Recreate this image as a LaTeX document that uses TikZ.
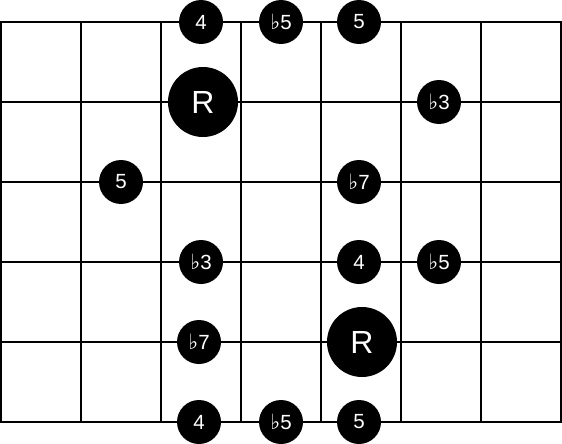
\documentclass[tikz,border=0pt]{standalone}
\usepackage{fontspec}
\setmainfont{Liberation Sans}
\newfontfamily\symfont{DejaVu Sans}
\newcommand{\fl}{{\symfont\fontsize{21}{21}\selectfont ♭}}
\tikzset{
  gridline/.style={line width=2pt},
  dot/.style={circle, fill=black, minimum size=44pt, inner sep=0pt, text=white, font=\fontsize{20.5}{21}\selectfont},
  bigdot/.style={circle, fill=black, minimum size=70pt, inner sep=0pt, text=white, font=\fontsize{32}{32}\selectfont}
}
\begin{document}
\begin{tikzpicture}[x=1pt,y=-1pt]
\useasboundingbox (0,0) rectangle (562,444);
\foreach \x in {1,81,161,241,321,401,481,561} \draw[gridline] (\x,22) -- (\x,422);
\foreach \y in {22,102,182,262,342,422} \draw[gridline] (0,\y) -- (562,\y);
\node[dot] (t4) at (201,22) {4};
\node[dot] (tb5) at (281,22) {\fl5};
\node[dot] (t5) at (359,22) {5};
\node[bigdot] (r1) at (203,102) {R};
\node[dot] (b3a) at (439,102) {\fl3};
\node[dot] (f5) at (121,182) {5};
\node[dot] (b7a) at (359,182) {\fl7};
\node[dot] (b3b) at (201,262) {\fl3};
\node[dot] (f4) at (359,262) {4};
\node[dot] (b5m) at (439,262) {\fl5};
\node[dot] (b7b) at (199,342) {\fl7};
\node[bigdot] (r2) at (362,342) {R};
\node[dot] (d4) at (199,422) {4};
\node[dot] (db5) at (281,422) {\fl5};
\node[dot] (d5) at (359,422) {5};
\end{tikzpicture}
\end{document}
